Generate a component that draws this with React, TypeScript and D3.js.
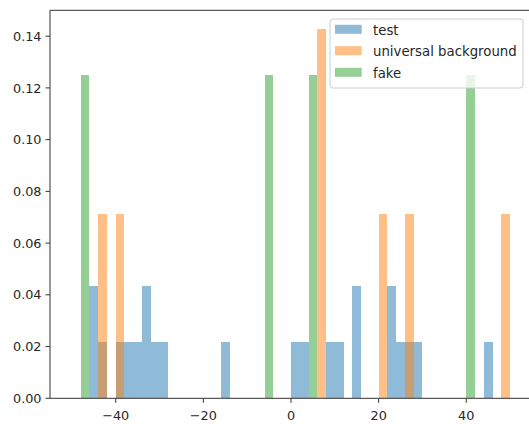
import React from "react";
import * as d3 from "d3";

const W = 529;
const H = 424;

// histogram bins (left edges, width 2) and densities
const binWidth = 2;
const testBins = [-46, -44, -40, -38, -36, -34, -32, -30, -16, 0, 2, 8, 10, 14, 22, 24, 26, 28, 44];
const testValues = [0.0435, 0.0217, 0.0217, 0.0217, 0.0217, 0.0435, 0.0217, 0.0217, 0.0217, 0.0217, 0.0217, 0.0217, 0.0217, 0.0435, 0.0435, 0.0217, 0.0217, 0.0217, 0.0217];
const ubmBins = [-44, -40, 6, 20, 26, 48];
const ubmValues = [0.0714, 0.0714, 0.1429, 0.0714, 0.0714, 0.0714];
const fakeBins = [-48, -6, 4, 40];
const fakeValues = [0.125, 0.125, 0.125, 0.125];

const seriesNames = ["test", "universal background", "fake"];
const seriesColors = ["#1f77b4", "#ff7f0e", "#2ca02c"];

const xTicks = [-40, -20, 0, 20, 40];
const yTicks = [0, 0.02, 0.04, 0.06, 0.08, 0.1, 0.12, 0.14];

const xDomain = [-55, 55];
const yDomain = [0, 0.15];

const fmtMinus = (v: number) => (v < 0 ? "\u2212" + Math.abs(v) : String(v));

export default function App() {
  const left = 50;
  const right = 532;
  const top = 10.3;
  const bottom = 398.3;
  const x = d3.scaleLinear().domain(xDomain).range([left, right]);
  const y = d3.scaleLinear().domain(yDomain).range([bottom, top]);

  const series = [
    { bins: testBins, vals: testValues },
    { bins: ubmBins, vals: ubmValues },
    { bins: fakeBins, vals: fakeValues },
  ];

  const font = "'DejaVu Sans', sans-serif";
  const fs = 12.8;

  const legX = 330;
  const legY = 19;
  const legW = 193;
  const legH = 69;
  const rowY = [29.3, 50.7, 72.3];

  return (
    <svg
      width={W}
      height={H}
      style={{ position: "absolute", left: 0, top: 0, background: "#fff" }}
      fontFamily={font}
    >
      <defs>
        <clipPath id="plot">
          <rect x={left} y={top} width={right - left} height={bottom - top} />
        </clipPath>
      </defs>
      <g clipPath="url(#plot)" shapeRendering="crispEdges">
        {series.map((s, si) =>
          s.bins.map((b, i) => (
            <rect
              key={si + "-" + i}
              x={x(b)}
              y={y(s.vals[i])}
              width={x(b + binWidth) - x(b)}
              height={y(0) - y(s.vals[i])}
              fill={seriesColors[si]}
              fillOpacity={0.5}
            />
          ))
        )}
      </g>
      {/* spines */}
      <g stroke="#333" strokeWidth={1} fill="none">
        <line x1={left} x2={left} y1={top} y2={bottom} />
        <line x1={left} x2={right} y1={bottom} y2={bottom} />
        <line x1={left} x2={right} y1={top} y2={top} />
        <line x1={right} x2={right} y1={top} y2={bottom} />
      </g>
      {/* y axis */}
      {yTicks.map((t) => (
        <g key={"y" + t}>
          <line x1={left - 4.5} x2={left} y1={y(t)} y2={y(t)} stroke="#333" />
          <text x={left - 8.5} y={y(t) + 4.6} fontSize={fs} textAnchor="end" fill="#262626">
            {t.toFixed(2)}
          </text>
        </g>
      ))}
      {/* x axis */}
      {xTicks.map((t) => (
        <g key={"x" + t}>
          <line x1={x(t)} x2={x(t)} y1={bottom} y2={bottom + 4.5} stroke="#333" />
          <text x={x(t)} y={bottom + 21.5} fontSize={fs} textAnchor="middle" fill="#262626">
            {fmtMinus(t)}
          </text>
        </g>
      ))}
      {/* legend */}
      <rect
        x={legX}
        y={legY}
        width={legW}
        height={legH}
        rx={3}
        fill="#fff"
        fillOpacity={0.8}
        stroke="#cccccc"
        strokeWidth={1}
      />
      {seriesNames.map((n, i) => (
        <g key={n}>
          <rect
            x={legX + 5}
            y={rowY[i] - 4.5}
            width={26.7}
            height={9}
            fill={seriesColors[i]}
            fillOpacity={0.5}
          />
          <text x={373} y={rowY[i] + 5.7} fontSize={13.3} fill="#262626">
            {n}
          </text>
        </g>
      ))}
    </svg>
  );
}
